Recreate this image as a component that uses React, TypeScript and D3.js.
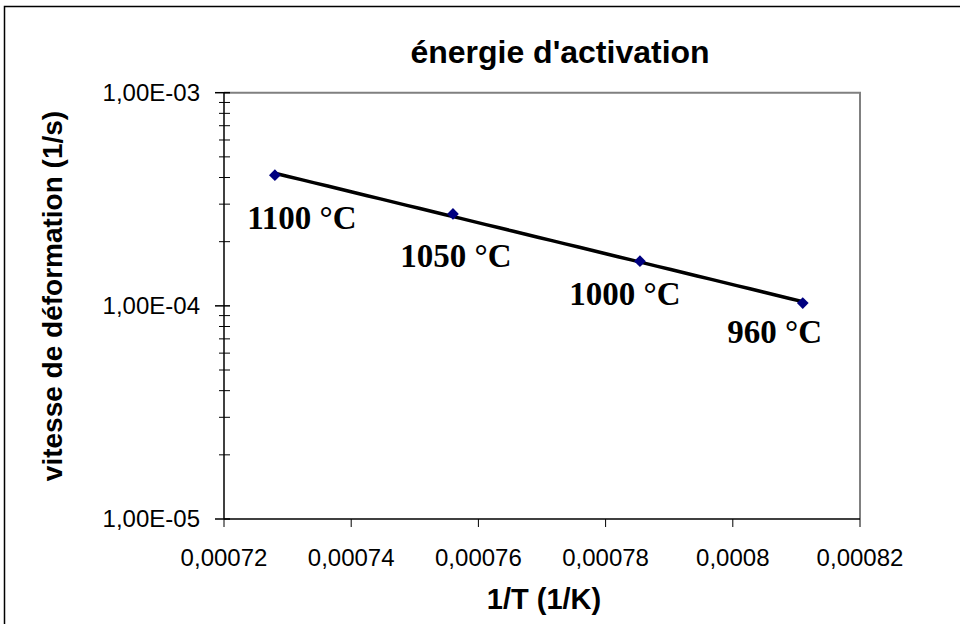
import React, { useEffect, useRef } from "react";
import * as d3 from "d3";

const invT = [0.000728, 0.000756, 0.0007854, 0.000811];
const rate = [4.1e-4, 2.7e-4, 1.62e-4, 1.03e-4];
const labels = ["1100 °C", "1050 °C", "1000 °C", "960 °C"];
const xTicks = [0.00072, 0.00074, 0.00076, 0.00078, 0.0008, 0.00082];
const xTickLabels = ["0,00072", "0,00074", "0,00076", "0,00078", "0,0008", "0,00082"];
const yTicks = [1e-5, 1e-4, 1e-3];
const yTickLabels = ["1,00E-05", "1,00E-04", "1,00E-03"];
const title = "énergie d'activation";
const xTitle = "1/T (1/K)";
const yTitle = "vitesse de déformation (1/s)";

// label placement offsets (layout, px)
const labelDX = [27, 3, -15, -28];
const labelDY = [54, 53, 44, 40];

export default function App() {
  const ref = useRef<SVGSVGElement>(null);
  useEffect(() => {
    const svg = d3.select(ref.current);
    svg.selectAll("*").remove();
    const L = 224, R = 860, T = 92.7, B = 519;
    const x = d3.scaleLinear().domain([0.00072, 0.00082]).range([L, R]);
    const y = d3.scaleLog().domain([1e-5, 1e-3]).range([B, T]);
    const sans = "'Liberation Sans', Arial, sans-serif";
    const serif = "'Liberation Serif', 'Times New Roman', serif";

    svg.append("rect").attr("x", 0).attr("y", 0).attr("width", 960).attr("height", 624).attr("fill", "#fff");
    svg.append("rect").attr("x", 4.5).attr("y", 6.5).attr("width", 980).attr("height", 640)
      .attr("fill", "none").attr("stroke", "#000").attr("stroke-width", 1.5);

    // plot area top/right border
    svg.append("path").attr("d", `M${L},${T}H${R}V${B}`).attr("fill", "none")
      .attr("stroke", "#808080").attr("stroke-width", 2);

    // y axis
    svg.append("line").attr("x1", L).attr("x2", L).attr("y1", T).attr("y2", B).attr("stroke", "#000").attr("stroke-width", 1.5);
    const minor: number[] = [];
    for (let e = -5; e < -3; e++) for (let m = 2; m <= 9; m++) minor.push(m * Math.pow(10, e));
    svg.selectAll(".mn").data(minor).enter().append("line")
      .attr("x1", L - 5).attr("x2", L + 6).attr("y1", (d) => y(d)).attr("y2", (d) => y(d))
      .attr("stroke", "#000").attr("stroke-width", 1);
    svg.selectAll(".mj").data(yTicks).enter().append("line")
      .attr("x1", L - 9).attr("x2", L + 6).attr("y1", (d) => y(d)).attr("y2", (d) => y(d))
      .attr("stroke", "#000").attr("stroke-width", 1.5);
    svg.selectAll(".yl").data(yTicks).enter().append("text")
      .attr("x", 200).attr("y", (d) => y(d)).attr("dy", "0.35em").attr("text-anchor", "end")
      .attr("font-family", sans).attr("font-size", 24).text((d, i) => yTickLabels[i]);

    // x axis
    svg.append("line").attr("x1", L).attr("x2", R).attr("y1", B).attr("y2", B).attr("stroke", "#000").attr("stroke-width", 1.5);
    svg.selectAll(".xt").data(xTicks).enter().append("line")
      .attr("x1", (d) => x(d)).attr("x2", (d) => x(d)).attr("y1", B).attr("y2", B + 8)
      .attr("stroke", "#000").attr("stroke-width", 1);
    svg.selectAll(".xl").data(xTicks).enter().append("text")
      .attr("x", (d) => x(d)).attr("y", 566).attr("text-anchor", "middle")
      .attr("font-family", sans).attr("font-size", 24).text((d, i) => xTickLabels[i]);

    // titles
    svg.append("text").attr("x", 560).attr("y", 63).attr("text-anchor", "middle")
      .attr("font-family", sans).attr("font-weight", "bold").attr("font-size", 32).text(title);
    svg.append("text").attr("x", 544).attr("y", 609).attr("text-anchor", "middle")
      .attr("font-family", sans).attr("font-weight", "bold").attr("font-size", 29).text(xTitle);
    svg.append("text").attr("transform", `translate(62,296) rotate(-90)`).attr("text-anchor", "middle")
      .attr("font-family", sans).attr("font-weight", "bold").attr("font-size", 28).text(yTitle);

    // exponential trendline fit
    const lx = invT, ly = rate.map((v) => Math.log(v));
    const mx = d3.mean(lx)!, my = d3.mean(ly)!;
    const b = d3.sum(lx.map((v, i) => (v - mx) * (ly[i] - my))) / d3.sum(lx.map((v) => (v - mx) ** 2));
    const a = my - b * mx;
    const xs = d3.range(0, 41).map((i) => invT[0] + (i / 40) * (invT[3] - invT[0]));
    const line = d3.line<number>().x((d) => x(d)).y((d) => y(Math.exp(a + b * d)));
    svg.append("path").attr("d", line(xs)).attr("fill", "none").attr("stroke", "#000").attr("stroke-width", 3.5);

    // markers
    svg.selectAll(".pt").data(invT).enter().append("path")
      .attr("d", d3.symbol().type(d3.symbolDiamond2).size(88)()!)
      .attr("transform", (d, i) => `translate(${x(d)},${y(rate[i])})`)
      .attr("fill", "#000080");

    // data labels
    svg.selectAll(".dl").data(labels).enter().append("text")
      .attr("x", (d, i) => x(invT[i]) + labelDX[i]).attr("y", (d, i) => y(rate[i]) + labelDY[i])
      .attr("text-anchor", "middle")
      .attr("font-family", serif).attr("font-weight", "bold").attr("font-size", 33).text((d) => d);
  }, []);
  return <svg ref={ref} width={960} height={624} style={{ position: "absolute", left: 0, top: 0, display: "block" }} />;
}
